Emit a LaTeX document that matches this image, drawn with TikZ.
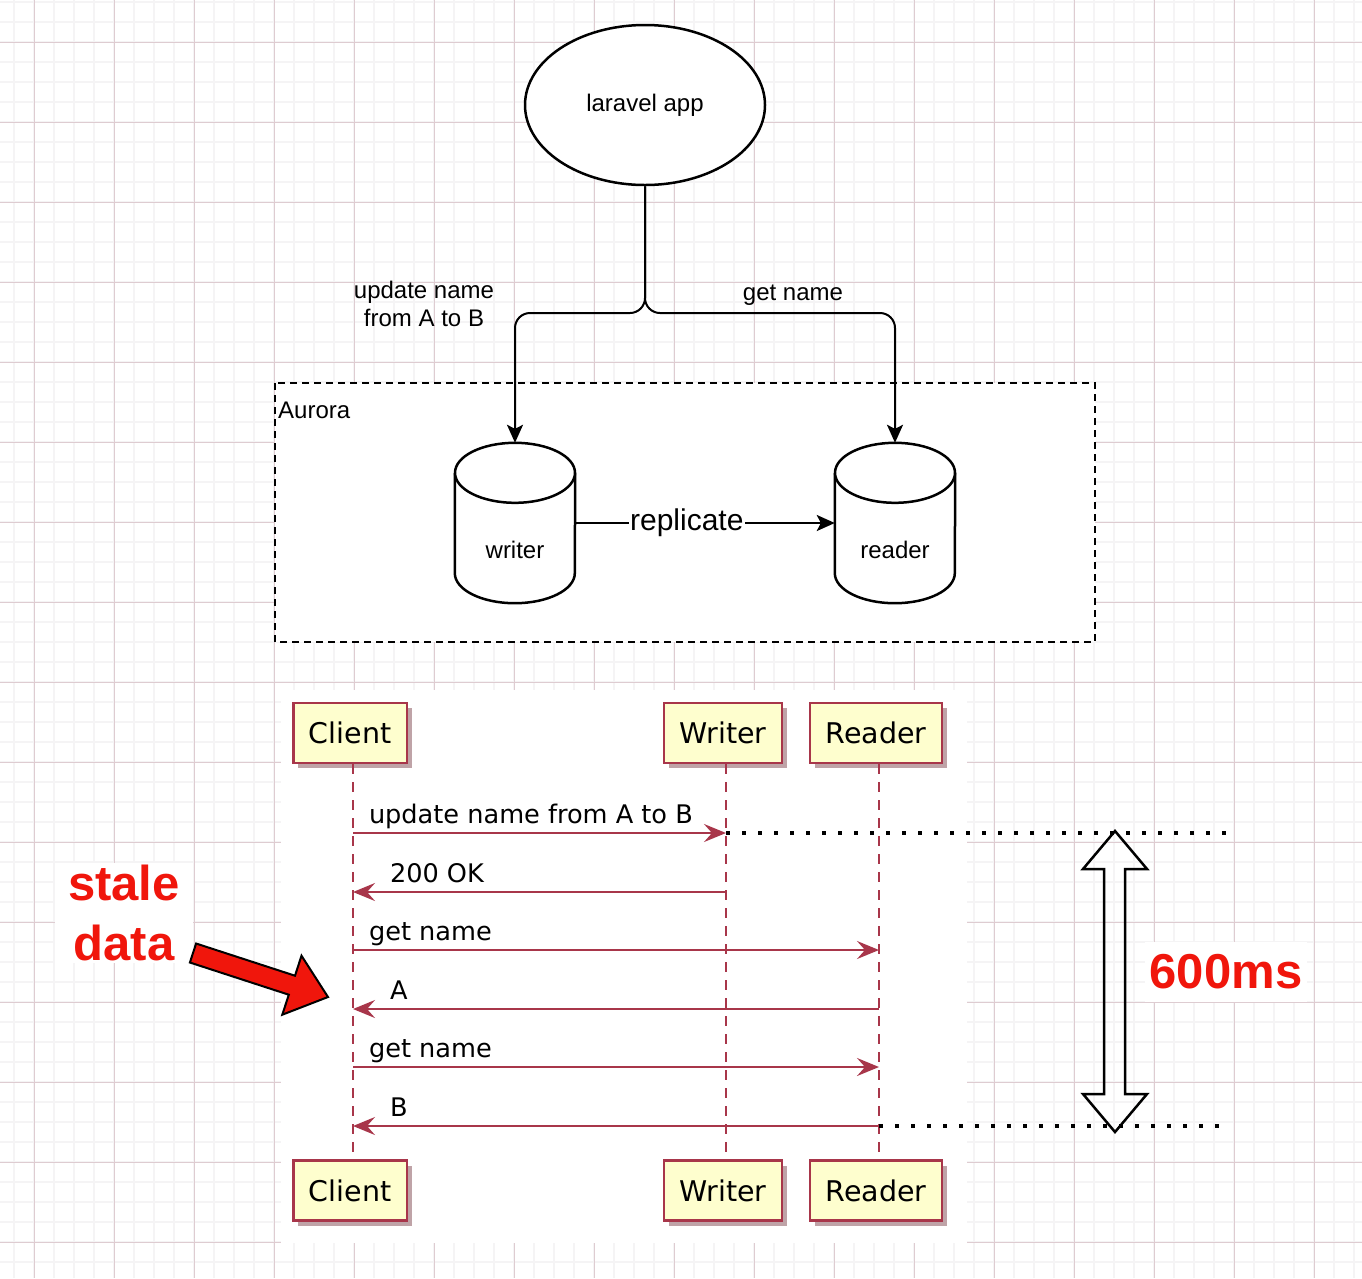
\documentclass[tikz,border=0pt]{standalone}
\usepackage{fontspec}
\setmainfont{Liberation Sans}
\newfontfamily\seqfont{DejaVu Sans}
\usetikzlibrary{shapes.geometric,arrows.meta,shadows}

\definecolor{gridminor}{RGB}{245,244,245}
\definecolor{gridmajor}{RGB}{222,204,209}
\definecolor{seqred}{RGB}{168,54,74}
\definecolor{partfill}{RGB}{254,254,206}
\definecolor{alertred}{RGB}{240,22,12}
\definecolor{shadowc}{RGB}{165,125,130}

\begin{document}
\begin{tikzpicture}[x=1pt,y=-1pt,
  link/.style={line width=2, -{Stealth[length=18pt,width=16pt,inset=4pt]}},
  cylbox/.style={minimum width=120, minimum height=160, inner sep=0},
  cyl/.style={line width=2.5, fill=white},
  toptext/.style={font=\fontsize{24}{28}\selectfont, inner sep=1},
  part/.style={draw=seqred, line width=2.5, fill=partfill, inner xsep=15.5, inner ysep=0,
    minimum height=60, font=\seqfont\fontsize{28.5}{34}\selectfont,
    drop shadow={shadow xshift=5pt, shadow yshift=-5pt, fill=shadowc, opacity=.7}},
  lifeline/.style={draw=seqred, line width=2, dash pattern=on 10pt off 8pt},
  msg/.style={draw=seqred, line width=2, -{Stealth[length=22pt,width=18pt,inset=8pt]}},
  msglbl/.style={font=\seqfont\fontsize{25.6}{30}\selectfont, inner sep=0, anchor=base west, yshift=10},
  dotline/.style={line width=4, dash pattern=on 4pt off 12pt},
  alert/.style={text=alertred, font=\bfseries\fontsize{49}{60}\selectfont, fill=white}
]
\useasboundingbox (0,0) rectangle (1362,1278);
\fill[white] (0,0) rectangle (1362,1278);

% grid paper
\foreach \x in {14,34,...,1354}
  \draw[gridminor, line width=2] (\x,0) -- (\x,1278);
\foreach \y in {2,22,...,1262}
  \draw[gridminor, line width=2] (0,\y) -- (1362,\y);
\foreach \x in {34,114,...,1314}
  \draw[gridmajor, line width=1] (\x,0) -- (\x,1278);
\foreach \y in {42,122,...,1242}
  \draw[gridmajor, line width=1] (0,\y) -- (1362,\y);

% architecture
\node[draw, ellipse, line width=2.5, fill=white, minimum width=240, minimum height=160,
  font=\fontsize{24}{28}\selectfont] (app) at (645,105) {laravel app};

\draw[dashed, line width=2, dash pattern=on 7pt off 5pt, fill=white] (275,383) rectangle (1095,642);
\node[toptext, anchor=west] (aurora) at (277,410) {Aurora};

\node[cylbox] (writer) at (515,523) {};
\node[cylbox] (reader) at (895,523) {};
\foreach \db in {writer,reader}
{
  \draw[cyl] ([yshift=-30]\db.north west) -- ([yshift=30]\db.south west)
    arc[start angle=180, end angle=360, x radius=60pt, y radius=30pt]
    -- ([yshift=-30]\db.north east);
  \draw[cyl] ([yshift=-30]\db.north) ellipse [x radius=60pt, y radius=30pt];
}
\node[toptext] (writertxt) at (515,550) {writer};
\node[toptext] (readertxt) at (895,550) {reader};

\coordinate (split) at (645,313);
\draw[link, rounded corners=15] (app.south) -- (split) -| (writer.north);
\draw[link, rounded corners=15] (app.south) -- (split) -| (reader.north);
\node[toptext, align=center] (updlbl) at (424,304) {update name\\from A to B};
\node[toptext] (getlbl) at (793,295) {get name};

\draw[link] (writer.east) -- node[pos=.43, fill=white, inner sep=1, font=\fontsize{30}{36}\selectfont] (repl) {replicate} (reader.west);

% sequence
\fill[white] (281,690) rectangle (967,1243);

\node[part] (ctop) at (350,733) {Client};
\node[part] (wtop) at (723,733) {Writer};
\node[part] (rtop) at (876,733) {Reader};
\node[part] (cbot) at (350,1190.5) {Client};
\node[part] (wbot) at (723,1190.5) {Writer};
\node[part] (rbot) at (876,1190.5) {Reader};

\foreach \p/\q in {ctop/cbot, wtop/wbot, rtop/rbot}
  \draw[lifeline] ([xshift=3]\p.south) -- ([xshift=3]\q.north);

\coordinate (cl) at ([xshift=3]ctop.south);
\coordinate (wl) at ([xshift=3]wtop.south);
\coordinate (rl) at ([xshift=3]rtop.south);
\foreach \n/\y in {1/833, 2/892, 3/950, 4/1009, 5/1067, 6/1126}
  \coordinate (row\n) at (0,\y);

\draw[msg] (cl |- row1) -- (wl |- row1) node[msglbl, pos=0, xshift=15] {update name from A to B};
\draw[msg] (wl |- row2) -- (cl |- row2) node[msglbl, pos=1, xshift=36] {200 OK};
\draw[msg] (cl |- row3) -- (rl |- row3) node[msglbl, pos=0, xshift=15] {get name};
\draw[msg] (rl |- row4) -- (cl |- row4) node[msglbl, pos=1, xshift=36] {A};
\draw[msg] (cl |- row5) -- (rl |- row5) node[msglbl, pos=0, xshift=15] {get name};
\draw[msg] (rl |- row6) -- (cl |- row6) node[msglbl, pos=1, xshift=36] {B};

% 600ms window
\coordinate (d1) at (1226,833);
\coordinate (d2) at (1222,1126);
\draw[dotline] (wl |- row1) -- (d1);
\draw[dotline] (rl |- row6) -- (d2);
\draw[line width=2.5, line join=miter] (1115,831) -- (1147,869) -- (1125,869) -- (1125,1094)
  -- (1147,1094) -- (1115,1132) -- (1083,1094) -- (1104,1094) -- (1104,869) -- (1083,869) -- cycle;
\node[alert, inner xsep=4.5, minimum height=60] (window) at (1226,972) {600ms};

% stale data
\node[alert, align=center, inner xsep=13, inner ysep=2] (stale) at (124,913) {stale\\data};
\draw[line width=2, fill=alertred, line join=miter] (196.1,943.5) -- (295.0,975.7) -- (301.5,955.7)
  -- (328,997) -- (282.3,1014.7) -- (288.8,994.7) -- (189.9,962.5) -- cycle;

\end{tikzpicture}
\end{document}
